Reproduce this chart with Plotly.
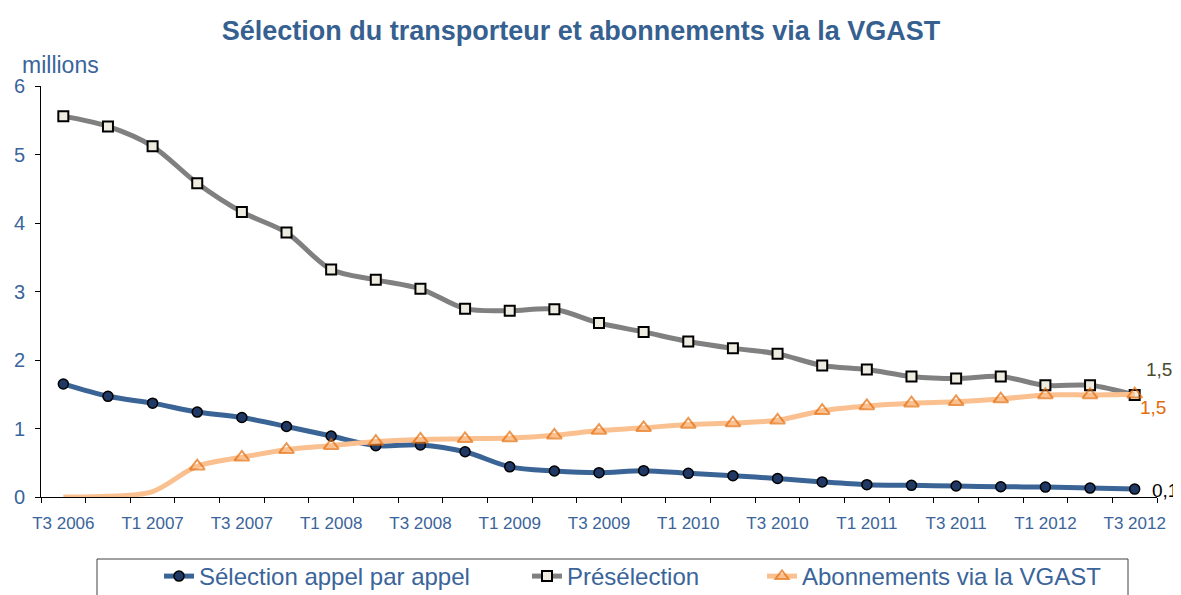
import plotly.graph_objects as go

quarters = ["T3 2006", "T4 2006", "T1 2007", "T2 2007", "T3 2007", "T4 2007",
            "T1 2008", "T2 2008", "T3 2008", "T4 2008", "T1 2009", "T2 2009",
            "T3 2009", "T4 2009", "T1 2010", "T2 2010", "T3 2010", "T4 2010",
            "T1 2011", "T2 2011", "T3 2011", "T4 2011", "T1 2012", "T2 2012",
            "T3 2012"]

selection_appel = [1.65, 1.47, 1.37, 1.24, 1.16, 1.03, 0.89, 0.75, 0.76, 0.66,
                   0.44, 0.38, 0.355, 0.385, 0.345, 0.31, 0.27, 0.22, 0.18,
                   0.17, 0.16, 0.15, 0.145, 0.13, 0.115]

preselection = [5.56, 5.41, 5.12, 4.58, 4.16, 3.86, 3.32, 3.17, 3.04, 2.75,
                2.72, 2.74, 2.54, 2.41, 2.27, 2.17, 2.09, 1.92, 1.86, 1.76,
                1.73, 1.76, 1.63, 1.63, 1.49]

abonnements_vgast = [0.0, 0.01, 0.08, 0.45, 0.58, 0.69, 0.75, 0.81, 0.84, 0.85,
                     0.86, 0.90, 0.97, 1.01, 1.06, 1.08, 1.12, 1.26, 1.33, 1.37,
                     1.39, 1.43, 1.49, 1.49, 1.50]

series_names = ["Sélection appel par appel", "Présélection", "Abonnements via la VGAST"]
end_labels = ["0,1", "1,5", "1,5"]
tick_labels = quarters[::2]

x = list(range(len(quarters)))
TEXT = "#3A649A"
FONT = "Liberation Sans, Arial, sans-serif"

# the page body has an 8px margin: figure is sized/placed to compensate
OFF = 8
W, H = 1181 - OFF, 595 - OFF
ML, MR, MT, MB = 41 - OFF, 24, 86 - OFF, 98
PW, PH = W - ML - MR, H - MT - MB


def px_x(p):  # screen px -> paper x
    return (p - OFF - ML) / PW


def px_y(p):  # screen px -> paper y
    return (H + OFF - MB - p) / PH


vgast_first_marker = 3
vgast_sizes = [0] * vgast_first_marker + [13] * (len(quarters) - vgast_first_marker)

fig = go.Figure()
fig.add_trace(go.Scatter(
    x=x, y=selection_appel, name=series_names[0], mode="lines+markers",
    legend="legend",
    line=dict(color="#3A6496", width=5, shape="spline", smoothing=0.9),
    marker=dict(symbol="circle", size=10, color="#1F3864",
                line=dict(color="black", width=1.5)),
))
fig.add_trace(go.Scatter(
    x=x, y=preselection, name=series_names[1], mode="lines+markers",
    legend="legend2",
    line=dict(color="#808080", width=5, shape="spline", smoothing=0.9),
    marker=dict(symbol="square", size=10, color="#EEECE1",
                line=dict(color="black", width=2)),
))
fig.add_trace(go.Scatter(
    x=x, y=abonnements_vgast, name=series_names[2], mode="lines+markers",
    legend="legend3",
    line=dict(color="#FAC090", width=5, shape="spline", smoothing=0.9),
    marker=dict(symbol="triangle-up-open", size=vgast_sizes, color="#E46C0A",
                line=dict(color="#E46C0A", width=2)),
))

last = len(quarters) - 1
fig.add_annotation(x=last, y=preselection[-1], text=end_labels[1], showarrow=False,
                   xshift=24, yshift=25, font=dict(size=19, color="#4A4A2E", family=FONT))
fig.add_annotation(x=last, y=abonnements_vgast[-1], text=end_labels[2], showarrow=False,
                   xshift=18, yshift=-13, font=dict(size=19, color="#E46C0A", family=FONT))
fig.add_annotation(x=last, y=selection_appel[-1], text=end_labels[0], showarrow=False,
                   xshift=30, yshift=-1, font=dict(size=19, color="black", family=FONT))

fig.add_annotation(xref="paper", yref="paper", x=px_x(20), y=px_y(65), xanchor="left",
                   yanchor="middle", text="millions", showarrow=False,
                   font=dict(size=23, color=TEXT, family=FONT))

# legend frame
fig.add_shape(type="rect", xref="paper", yref="paper",
              x0=px_x(97), x1=px_x(1128), y0=px_y(605), y1=px_y(559),
              line=dict(color="#404040", width=1), fillcolor="rgba(0,0,0,0)")

leg_common = dict(orientation="h", yanchor="top", y=px_y(554), xanchor="left",
                  bgcolor="rgba(0,0,0,0)", borderwidth=0,
                  font=dict(size=24, color=TEXT, family=FONT))

fig.update_layout(
    width=W, height=H,
    margin=dict(l=ML, r=MR, t=MT, b=MB, autoexpand=False),
    paper_bgcolor="white", plot_bgcolor="white",
    font=dict(family=FONT, color=TEXT),
    title=dict(text="<b>Sélection du transporteur et abonnements via la VGAST</b>",
               x=(581 - OFF) / W, xanchor="center", y=1 - (31 - OFF) / H,
               yanchor="middle",
               font=dict(size=27, color="#35608F", family=FONT)),
    showlegend=True,
    legend=dict(x=px_x(159), **leg_common),
    legend2=dict(x=px_x(527), **leg_common),
    legend3=dict(x=px_x(762), **leg_common),
)

fig.update_xaxes(
    range=[-0.5, len(quarters) - 0.5],
    tickmode="array", tickvals=x[::2], ticktext=tick_labels,
    ticks="", showgrid=False, zeroline=False,
    showline=True, linecolor="black", linewidth=1,
    tickfont=dict(size=17, color=TEXT, family=FONT),
    ticklabelstandoff=11,
    minor=dict(tickmode="linear", tick0=-0.5, dtick=1, ticks="outside",
               ticklen=5, tickcolor="black", tickwidth=1, showgrid=False),
)
fig.update_yaxes(
    range=[0, 6], dtick=1, ticks="outside", ticklen=5, tickcolor="black",
    showgrid=False, zeroline=False, showline=True, linecolor="black", linewidth=1,
    tickfont=dict(size=20, color=TEXT, family=FONT),
    ticklabelstandoff=6,
)

fig.write_html("out.html")
